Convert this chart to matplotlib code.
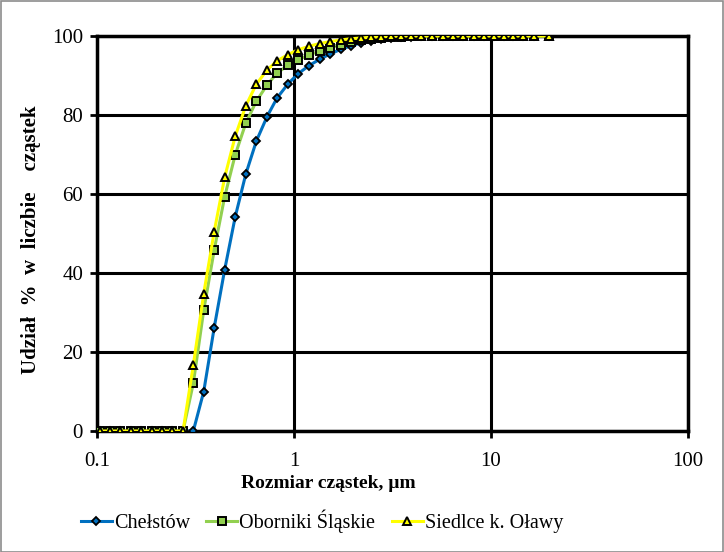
import matplotlib
matplotlib.use("Agg")
import matplotlib.pyplot as plt
from matplotlib.patches import Rectangle
from matplotlib.ticker import FixedLocator, NullLocator, FixedFormatter

plt.rcParams['font.family'] = ['Liberation Serif', 'DejaVu Serif']

# particle size classes, um
sizes = [0.103, 0.1165, 0.1316, 0.1486, 0.1679, 0.1896, 0.214, 0.2415, 0.2733, 0.3083,
         0.3482, 0.3936, 0.4446, 0.503, 0.569, 0.644, 0.730, 0.820, 0.933, 1.047,
         1.191, 1.350, 1.530, 1.726, 1.940, 2.20, 2.47, 2.78, 3.12, 3.51,
         3.94, 4.43, 5.03, 5.69, 6.40, 7.23, 8.17, 9.19, 10.3, 11.6,
         13.0, 14.6, 16.5, 19.7]

chelstow = [0, 0, 0, 0, 0, 0, 0, 0, 0, 0,
            10.0, 26.2, 40.8, 54.2, 65.0, 73.4, 79.6, 84.3, 87.9, 90.4,
            92.5, 94.1, 95.5, 96.6, 97.5, 98.3, 98.8, 99.2, 99.5, 99.7,
            99.8, 99.9, 100, 100, 100, 100, 100, 100, 100, 100,
            100, 100, 100, 100]

oborniki = [0, 0, 0, 0, 0, 0, 0, 0, 0, 12.1,
            30.6, 45.8, 59.3, 69.9, 77.9, 83.5, 87.6, 90.6, 92.6, 94.0,
            95.2, 96.2, 97.0, 97.8, 98.4, 98.9, 99.3, 99.5, 99.7, 99.8,
            99.9, 100, 100, 100, 100, 100, 100, 100, 100, 100,
            100, 100, 100, 100]

siedlce = [0, 0, 0, 0, 0, 0, 0, 0, 0, 16.7,
           34.8, 50.5, 64.2, 74.6, 82.3, 87.8, 91.4, 93.7, 95.3, 96.5,
           97.4, 98.1, 98.6, 99.0, 99.3, 99.5, 99.7, 99.8, 99.9, 100,
           100, 100, 100, 100, 100, 100, 100, 100, 100, 100,
           100, 100, 100, 100]

labels = ["Chełstów", "Oborniki Śląskie", "Siedlce k. Oławy"]
x_ticks = [0.1, 1, 10, 100]
x_tick_labels = ["0.1", "1", "10", "100"]
y_ticks = [0, 20, 40, 60, 80, 100]

W, H = 724, 552
fig = plt.figure(figsize=(W / 100, H / 100), dpi=100)
ax = fig.add_axes([97 / W, 1 - 431 / H, (688 - 97) / W, (431 - 36) / H])

ax.plot(sizes, chelstow, color='#0070C0', lw=2.2, marker='D', ms=4.0,
        mfc='#0070C0', mec='black', mew=1.3, label=labels[0], zorder=3)
ax.plot(sizes, oborniki, color='#92D050', lw=2.2, marker='s', ms=5.2,
        mfc='#92D050', mec='black', mew=1.4, label=labels[1], zorder=4)
ax.plot(sizes, siedlce, color='#FFFF00', lw=2.2, marker='^', ms=5.8,
        mfc='#FFFF00', mec='black', mew=1.4, label=labels[2], zorder=5)

ax.set_xscale('log')
ax.set_xlim(0.1, 100)
ax.set_ylim(0, 100)
ax.xaxis.set_major_locator(FixedLocator(x_ticks))
ax.xaxis.set_major_formatter(FixedFormatter(x_tick_labels))
ax.xaxis.set_minor_locator(NullLocator())
ax.set_yticks(y_ticks)
ax.grid(True, color='black', lw=2.2)
ax.set_axisbelow(True)
for s in ax.spines.values():
    s.set_linewidth(2.5)
    s.set_color('black')
ax.tick_params(axis='both', direction='out', length=5, width=2, labelsize=15, pad=5)
ax.tick_params(axis='x', pad=10)

ax.set_xlabel("Rozmiar cząstek, µm", fontsize=14, fontweight='bold')
ax.xaxis.set_label_coords((328 - 97) / 591, -(484 - 431) / 395)
ax.xaxis.label.set_va('center')
ax.set_ylabel("Udział  %  w  liczbie    cząstek", fontsize=15, fontweight='bold')
ax.yaxis.set_label_coords(-(97 - 31) / 591, (431 - 240) / 395)
ax.yaxis.label.set_va('center')

leg = fig.legend(loc='center', bbox_to_anchor=(322 / W, 1 - 521 / H), ncol=3,
                 frameon=False, fontsize=14.5, handlelength=1.55, columnspacing=0.8,
                 handletextpad=0.1)

fig.patches.append(Rectangle((0.5 / W, 0.5 / H), 1 - 1.5 / W, 1 - 1.5 / H,
                             transform=fig.transFigure, fill=False,
                             edgecolor='#8c8c8c', lw=1.2))

fig.savefig("out.png", dpi=100)
